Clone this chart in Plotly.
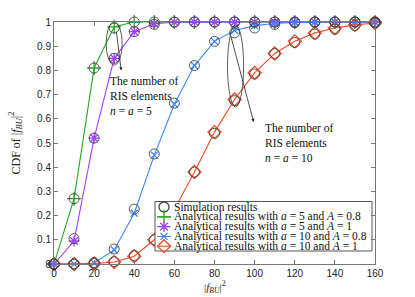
import plotly.graph_objects as go

x_vals = [0, 10, 20, 30, 40, 50, 60, 70, 80, 90, 100, 110, 120, 130, 140, 150, 160]

ana_a5_A08 = [0, 0.27, 0.81, 0.98, 1.0, 1.0, 1.0, 1.0, 1.0, 1.0, 1.0, 1.0, 1.0, 1.0, 1.0, 1.0, 1.0]
ana_a5_A1 = [0, 0.095, 0.52, 0.85, 0.96, 0.993, 0.999, 1.0, 1.0, 1.0, 1.0, 1.0, 1.0, 1.0, 1.0, 1.0, 1.0]
ana_a10_A08 = [0, 0.0, 0.004, 0.058, 0.21, 0.45, 0.66, 0.82, 0.92, 0.965, 0.985, 0.994, 0.998, 1.0, 1.0, 1.0, 1.0]
ana_a10_A1 = [0, 0.0, 0.002, 0.008, 0.032, 0.10, 0.225, 0.38, 0.545, 0.68, 0.79, 0.87, 0.92, 0.955, 0.975, 0.988, 0.996]

sim_a5_A08 = [0, 0.27, 0.81, 0.975, 1.0, 1.0, 1.0, 1.0, 1.0, 1.0, 1.0, 1.0, 1.0, 1.0, 1.0, 1.0, 1.0]
sim_a5_A1 = [0, 0.105, 0.52, 0.85, 0.96, 0.99, 0.999, 1.0, 1.0, 1.0, 1.0, 1.0, 1.0, 1.0, 1.0, 1.0, 1.0]
sim_a10_A08 = [0, 0.0, 0.006, 0.062, 0.227, 0.455, 0.665, 0.82, 0.92, 0.955, 0.975, 0.99, 0.997, 1.0, 1.0, 1.0, 1.0]
sim_a10_A1 = [0, 0.0, 0.002, 0.01, 0.035, 0.10, 0.225, 0.38, 0.54, 0.675, 0.785, 0.87, 0.915, 0.95, 0.97, 0.985, 0.996]

x_ticks = [0, 20, 40, 60, 80, 100, 120, 140, 160]
y_ticks = [0, 0.1, 0.2, 0.3, 0.4, 0.5, 0.6, 0.7, 0.8, 0.9, 1]
y_tick_text = ["0", "0.1", "0.2", "0.3", "0.4", "0.5", "0.6", "0.7", "0.8", "0.9", "1"]

GREEN = "#22a822"
PURPLE = "#a040ff"
BLUE = "#3a88ff"
RED = "#f04a22"
SIMC = "#444444"

series = [
    (ana_a5_A08, GREEN, "cross-thin-open", 10, "Analytical results with <i>a</i> = 5 and <i>A</i> = 0.8"),
    (ana_a5_A1, PURPLE, "asterisk-open", 9, "Analytical results with <i>a</i> = 5 and <i>A</i> = 1"),
    (ana_a10_A08, BLUE, "x-thin-open", 7, "Analytical results with <i>a</i> = 10 and <i>A</i> = 0.8"),
    (ana_a10_A1, RED, "diamond-open", 10, "Analytical results with <i>a</i> = 10 and <i>A</i> = 1"),
]
sims = [sim_a5_A08, sim_a5_A1, sim_a10_A08, sim_a10_A1]

fig = go.Figure()

for ys, col, sym, sz, name in series:
    fig.add_trace(go.Scatter(
        x=x_vals, y=ys, mode="lines+markers", cliponaxis=False,
        line=dict(color=col, width=1.1),
        marker=dict(symbol=sym, size=sz, color=col, line=dict(color=col, width=1.3)),
        showlegend=False, name=name))

for ys in sims:
    fig.add_trace(go.Scatter(
        x=x_vals, y=ys, mode="markers", cliponaxis=False,
        marker=dict(symbol="circle-open", size=10, color=SIMC, line=dict(color=SIMC, width=0.9)),
        showlegend=False, name="Simulation results"))

# manual legend drawn on a pixel-like overlay axis
LEG_ROWS = [207, 216.8, 226.6, 236.4, 246.2]
leg_entries = [("circle-open", SIMC, 10, False, "Simulation results")] + \
    [(sym, col, sz, True, name) for (_, col, sym, sz, name) in series]
fig.add_trace(go.Scatter(x=[155, 372, 372, 155, 155], y=[201.5, 201.5, 251, 251, 201.5],
                         mode="lines", fill="toself", fillcolor="white", xaxis="x2", yaxis="y2",
                         line=dict(color="#555555", width=1), showlegend=False, hoverinfo="skip",
                         cliponaxis=False))
for (sym, col, sz, has_line, name), ry in zip(leg_entries, LEG_ROWS):
    if has_line:
        fig.add_trace(go.Scatter(x=[157, 171], y=[ry, ry], mode="lines", xaxis="x2", yaxis="y2",
                                 line=dict(color=col, width=1.1), showlegend=False, hoverinfo="skip",
                                 cliponaxis=False))
    fig.add_trace(go.Scatter(x=[164], y=[ry], mode="markers", xaxis="x2", yaxis="y2", cliponaxis=False,
                             marker=dict(symbol=sym, size=sz, color=col, line=dict(color=col, width=1.3)),
                             showlegend=False, hoverinfo="skip"))
    fig.add_annotation(xref="x2", yref="y2", x=172, y=ry, text=name, showarrow=False,
                       xanchor="left", yanchor="middle",
                       font=dict(family="Liberation Serif", size=11.5, color="#111111"))

SERIF = dict(family="Liberation Serif", size=11.5, color="#111111")

# ellipses
fig.add_shape(type="circle", xref="x", yref="y", x0=26, x1=34, y0=0.822, y1=1.0,
              line=dict(color="#333333", width=0.8))
fig.add_shape(type="circle", xref="x", yref="y", x0=86.5, x1=94.5, y0=0.649, y1=0.988,
              line=dict(color="#333333", width=0.8))

# arrows
fig.add_annotation(x=33.5, y=0.80, ax=31, ay=0.967, xref="x", yref="y", axref="x", ayref="y",
                   showarrow=True, arrowhead=2, arrowsize=0.8, arrowwidth=0.8, arrowcolor="#222222", text="")
fig.add_annotation(x=99.5, y=0.587, ax=88, ay=0.946, xref="x", yref="y", axref="x", ayref="y",
                   showarrow=True, arrowhead=2, arrowsize=0.8, arrowwidth=0.8, arrowcolor="#222222", text="")

fig.add_annotation(x=27, y=0.79, xref="x", yref="y", xanchor="left", yanchor="top", align="left",
                   showarrow=False, text="The number of<br>RIS elements<br><i>n</i> = <i>a</i> = 5", font=SERIF)
fig.add_annotation(x=104, y=0.595, xref="x", yref="y", xanchor="left", yanchor="top", align="left",
                   showarrow=False, text="The number of<br>RIS elements<br><i>n</i> = <i>a</i> = 10", font=SERIF)

# axis titles
fig.add_annotation(xref="paper", yref="paper", x=0.5, y=-0.055, yanchor="top", showarrow=False,
                   text="|<i>f</i><sub><i>BU</i></sub>|<sup>2</sup>", font=dict(family="Liberation Serif", size=11, color="#222222"))
fig.add_annotation(xref="paper", yref="paper", x=-0.12, y=0.5, xanchor="center", showarrow=False, textangle=-90,
                   text="CDF of |<i>f</i><sub><i>BU</i></sub>|<sup>2</sup>", font=dict(family="Liberation Serif", size=12, color="#222222"))

axis_common = dict(showgrid=False, zeroline=False, showline=True, linecolor="#777777", linewidth=1,
                   mirror="ticks", ticks="inside", ticklen=4, tickcolor="#777777",
                   tickfont=dict(family="Liberation Sans", size=10, color="#222222"))

fig.update_layout(
    width=415, height=297,
    margin=dict(l=54, r=40, t=22, b=33),
    paper_bgcolor="white", plot_bgcolor="white",
    showlegend=False,
    xaxis=dict(range=[0, 160], tickvals=x_ticks, **axis_common),
    yaxis=dict(range=[0, 1], tickvals=y_ticks, ticktext=y_tick_text, **axis_common),
    xaxis2=dict(range=[54, 375], overlaying="x", visible=False, anchor="y2"),
    yaxis2=dict(range=[264, 22], overlaying="y", visible=False, anchor="x2"),
)

fig.write_html("out.html", config={"displayModeBar": False},
               post_script="document.body.style.margin='0';document.body.style.overflow='hidden';")
